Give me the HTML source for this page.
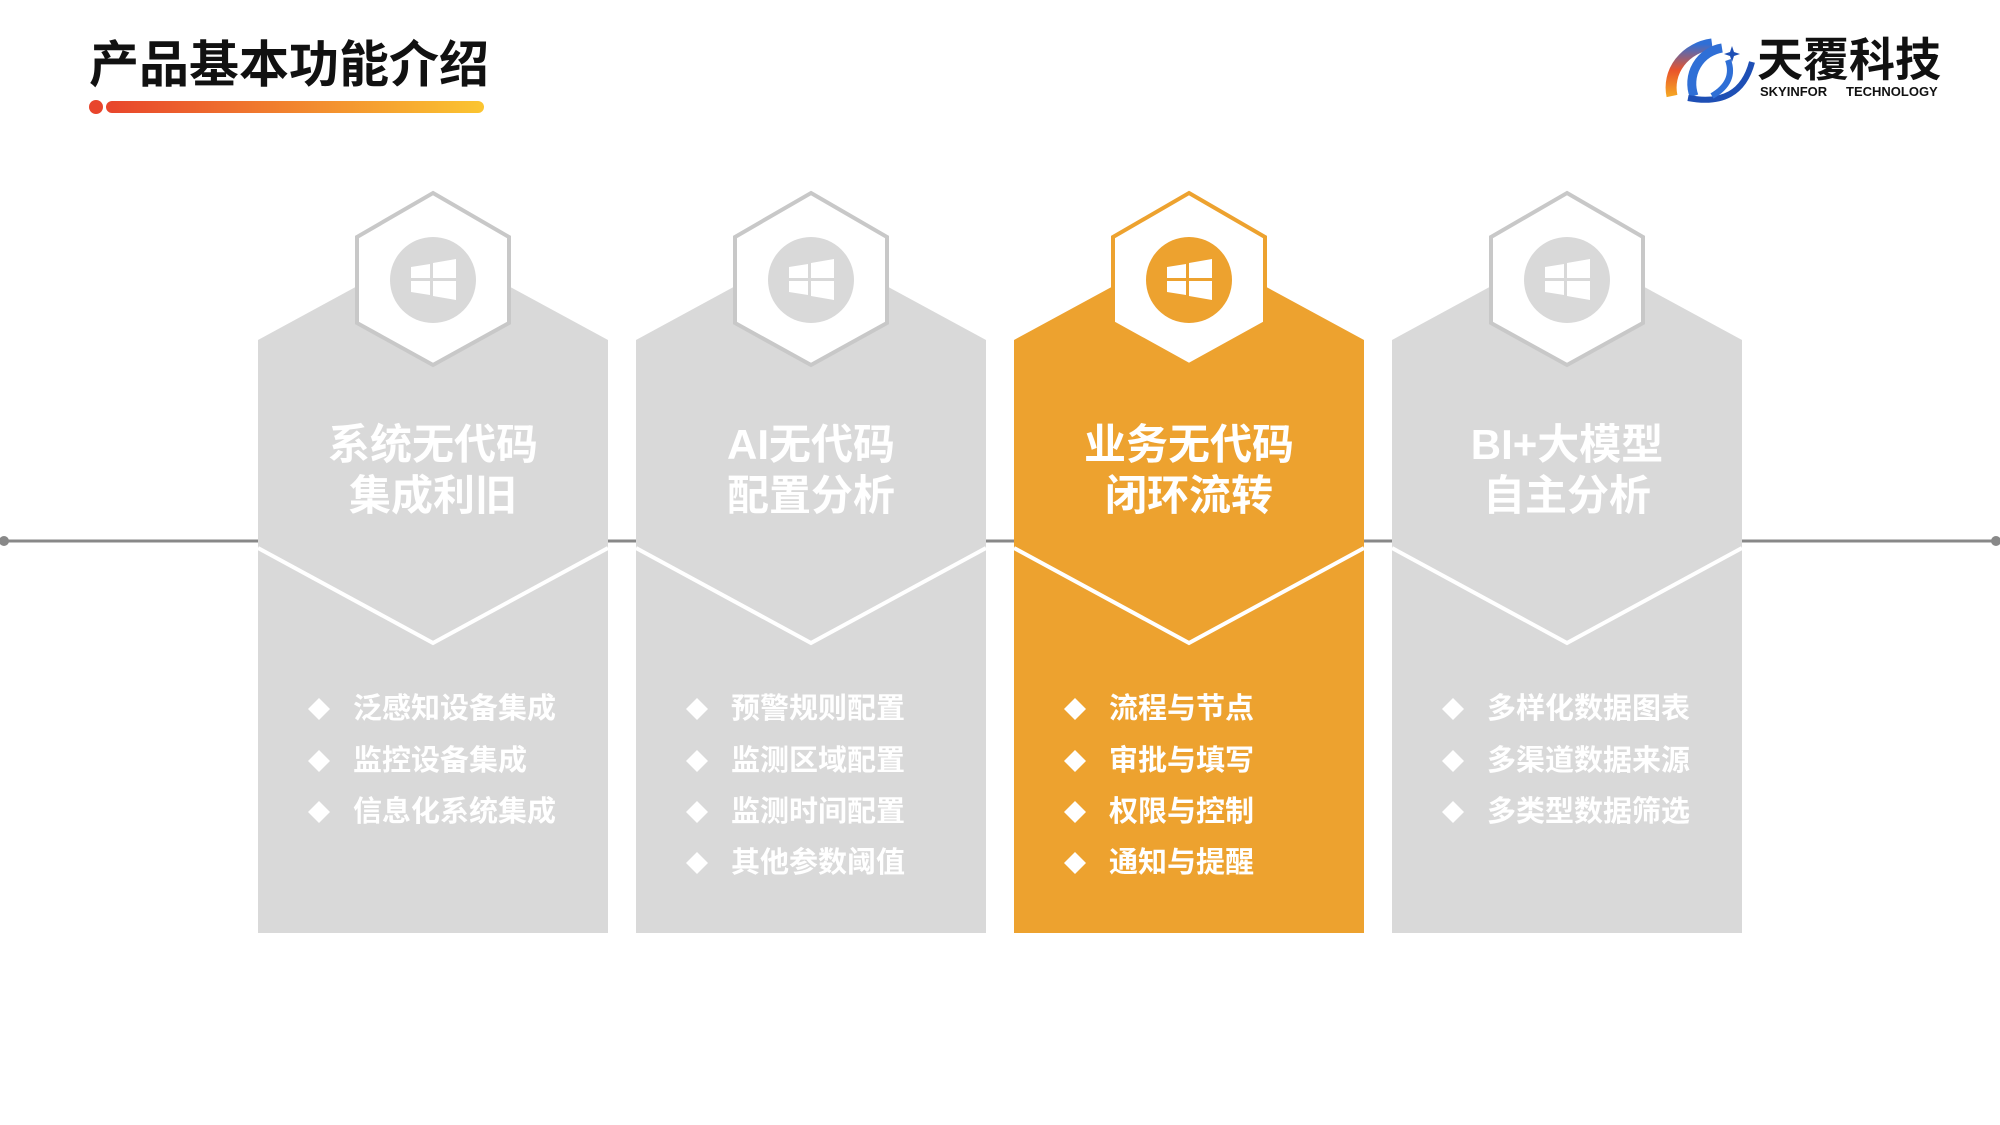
<!DOCTYPE html>
<html><head><meta charset="utf-8"><style>
html,body{margin:0;padding:0;background:#fff;}
svg{display:block}
text{font-family:"Liberation Sans","Noto Sans CJK SC",sans-serif;font-weight:bold}
</style></head><body>
<svg width="2000" height="1125" viewBox="0 0 2000 1125" xmlns="http://www.w3.org/2000/svg">
<defs>
<linearGradient id="g1" x1="0" x2="1" y1="0" y2="0"><stop offset="0" stop-color="#E8452C"/><stop offset="1" stop-color="#FBC531"/></linearGradient>
<linearGradient id="lg" x1="0" x2="0" y1="1" y2="0"><stop offset="0" stop-color="#F5A623"/><stop offset="0.5" stop-color="#E9532B"/><stop offset="1" stop-color="#2F6FD6"/></linearGradient>
</defs>
<text x="89" y="82" font-size="50" fill="#111">产品基本功能介绍</text>
<circle cx="96" cy="107" r="7" fill="#E8452C"/>
<rect x="106" y="101" width="378" height="12" rx="6" fill="url(#g1)"/>
<!-- logo -->
<g>
<path d="M1672 96 A48 44 0 0 1 1712 44" stroke="url(#lg)" stroke-width="11" fill="none"/>
<path d="M1694 96 A36 36 0 0 1 1722 48" stroke="#2F6FD6" stroke-width="9" fill="none"/>
<path d="M1688 98 Q1740 108 1752 62" stroke="#1E4FB5" stroke-width="6" fill="none"/>
<path d="M1712 96 Q1736 82 1728 60" stroke="#2F6FD6" stroke-width="6" fill="none"/>
<path d="M1732 46 l2 6 6 2 -6 2 -2 6 -2 -6 -6 -2 6 -2z" fill="#1E4FB5"/>
<text x="1757" y="76" font-size="46" fill="#111">天覆科技</text>
<text x="1760" y="96" font-size="13" fill="#111">SKYINFOR</text>
<text x="1846" y="96" font-size="13" fill="#111">TECHNOLOGY</text>
</g>
<!-- timeline -->
<line x1="4" y1="541" x2="1996" y2="541" stroke="#888" stroke-width="3"/>
<circle cx="4" cy="541" r="5" fill="#888"/><circle cx="1996" cy="541" r="5" fill="#888"/>
<g transform="translate(258,0)">
<path d="M0 340 L175 245 L350 340 L350 933 L0 933Z" fill="#D9D9D9"/>
<polyline points="0,548 175,643 350,548" stroke="#fff" stroke-width="4" fill="none"/>
<polygon points="175,193 251,237 251,323 175,365 99,323 99,237" fill="#fff" stroke="#C8C8C8" stroke-width="4"/>
<circle cx="175" cy="280" r="43" fill="#D9D9D9"/>
<path d="M153 267 L172 264 L172 278 L153 278Z M175 263 L198 259 L198 278 L175 278Z M153 281 L172 281 L172 295 L153 292Z M175 281 L198 281 L198 300 L175 296Z" fill="#fff"/>
<text x="175" y="459" font-size="42" fill="#fff" text-anchor="middle">系统无代码</text>
<text x="175" y="510" font-size="42" fill="#fff" text-anchor="middle">集成利旧</text>
<g font-size="29" fill="#fff"><text x="95" y="718">泛感知设备集成</text><text x="95" y="770">监控设备集成</text><text x="95" y="821">信息化系统集成</text></g>
<g fill="#fff"><path d="M61 698 l11 11 -11 11 -11 -11z"/><path d="M61 750 l11 11 -11 11 -11 -11z"/><path d="M61 801 l11 11 -11 11 -11 -11z"/></g>
</g>
<g transform="translate(636,0)">
<path d="M0 340 L175 245 L350 340 L350 933 L0 933Z" fill="#D9D9D9"/>
<polyline points="0,548 175,643 350,548" stroke="#fff" stroke-width="4" fill="none"/>
<polygon points="175,193 251,237 251,323 175,365 99,323 99,237" fill="#fff" stroke="#C8C8C8" stroke-width="4"/>
<circle cx="175" cy="280" r="43" fill="#D9D9D9"/>
<path d="M153 267 L172 264 L172 278 L153 278Z M175 263 L198 259 L198 278 L175 278Z M153 281 L172 281 L172 295 L153 292Z M175 281 L198 281 L198 300 L175 296Z" fill="#fff"/>
<text x="175" y="459" font-size="42" fill="#fff" text-anchor="middle">AI无代码</text>
<text x="175" y="510" font-size="42" fill="#fff" text-anchor="middle">配置分析</text>
<g font-size="29" fill="#fff"><text x="95" y="718">预警规则配置</text><text x="95" y="770">监测区域配置</text><text x="95" y="821">监测时间配置</text><text x="95" y="872">其他参数阈值</text></g>
<g fill="#fff"><path d="M61 698 l11 11 -11 11 -11 -11z"/><path d="M61 750 l11 11 -11 11 -11 -11z"/><path d="M61 801 l11 11 -11 11 -11 -11z"/><path d="M61 852 l11 11 -11 11 -11 -11z"/></g>
</g>
<g transform="translate(1014,0)">
<path d="M0 340 L175 245 L350 340 L350 933 L0 933Z" fill="#EDA22F"/>
<polyline points="0,548 175,643 350,548" stroke="#fff" stroke-width="4" fill="none"/>
<polygon points="175,193 251,237 251,323 175,365 99,323 99,237" fill="#fff" stroke="#EDA22F" stroke-width="4"/>
<circle cx="175" cy="280" r="43" fill="#EDA22F"/>
<path d="M153 267 L172 264 L172 278 L153 278Z M175 263 L198 259 L198 278 L175 278Z M153 281 L172 281 L172 295 L153 292Z M175 281 L198 281 L198 300 L175 296Z" fill="#fff"/>
<text x="175" y="459" font-size="42" fill="#fff" text-anchor="middle">业务无代码</text>
<text x="175" y="510" font-size="42" fill="#fff" text-anchor="middle">闭环流转</text>
<g font-size="29" fill="#fff"><text x="95" y="718">流程与节点</text><text x="95" y="770">审批与填写</text><text x="95" y="821">权限与控制</text><text x="95" y="872">通知与提醒</text></g>
<g fill="#fff"><path d="M61 698 l11 11 -11 11 -11 -11z"/><path d="M61 750 l11 11 -11 11 -11 -11z"/><path d="M61 801 l11 11 -11 11 -11 -11z"/><path d="M61 852 l11 11 -11 11 -11 -11z"/></g>
</g>
<g transform="translate(1392,0)">
<path d="M0 340 L175 245 L350 340 L350 933 L0 933Z" fill="#D9D9D9"/>
<polyline points="0,548 175,643 350,548" stroke="#fff" stroke-width="4" fill="none"/>
<polygon points="175,193 251,237 251,323 175,365 99,323 99,237" fill="#fff" stroke="#C8C8C8" stroke-width="4"/>
<circle cx="175" cy="280" r="43" fill="#D9D9D9"/>
<path d="M153 267 L172 264 L172 278 L153 278Z M175 263 L198 259 L198 278 L175 278Z M153 281 L172 281 L172 295 L153 292Z M175 281 L198 281 L198 300 L175 296Z" fill="#fff"/>
<text x="175" y="459" font-size="42" fill="#fff" text-anchor="middle">BI+大模型</text>
<text x="175" y="510" font-size="42" fill="#fff" text-anchor="middle">自主分析</text>
<g font-size="29" fill="#fff"><text x="95" y="718">多样化数据图表</text><text x="95" y="770">多渠道数据来源</text><text x="95" y="821">多类型数据筛选</text></g>
<g fill="#fff"><path d="M61 698 l11 11 -11 11 -11 -11z"/><path d="M61 750 l11 11 -11 11 -11 -11z"/><path d="M61 801 l11 11 -11 11 -11 -11z"/></g>
</g>
</svg>
</body></html>
